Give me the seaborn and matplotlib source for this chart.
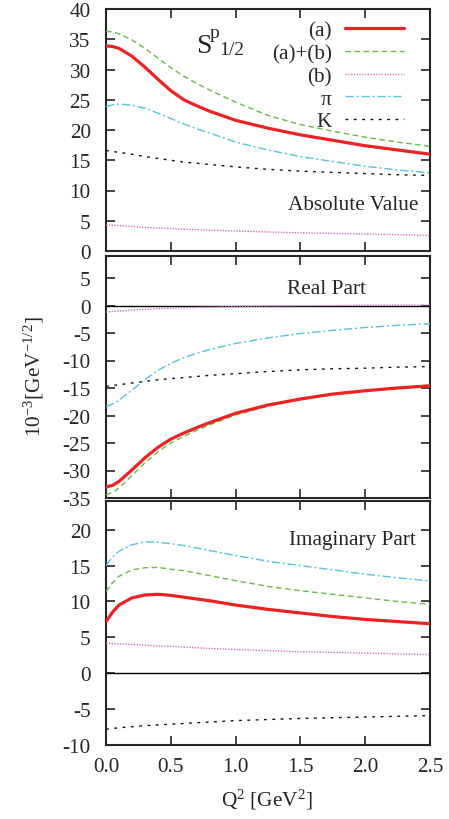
import numpy as np
import pandas as pd
import matplotlib
matplotlib.use("Agg")
import matplotlib.pyplot as plt
import seaborn as sns

# ---------------- data ----------------
q2 = [0.0, 0.05, 0.1, 0.2, 0.3, 0.4, 0.5, 0.6, 0.7, 0.8, 1.0, 1.25, 1.5, 1.75, 2.0, 2.25, 2.5]

abs_a  = [33.9, 33.8, 33.5, 32.2, 30.4, 28.4, 26.5, 25.0, 24.0, 23.1, 21.6, 20.3, 19.2, 18.3, 17.4, 16.7, 16.0]
abs_ab = [36.3, 36.2, 35.9, 34.9, 33.5, 31.9, 30.3, 28.9, 27.7, 26.6, 24.6, 22.4, 20.9, 19.8, 18.8, 18.0, 17.3]
abs_b  = [4.3, 4.25, 4.2, 4.05, 3.9, 3.8, 3.7, 3.6, 3.52, 3.45, 3.3, 3.15, 3.0, 2.9, 2.8, 2.7, 2.6]
abs_pi = [23.9, 24.15, 24.3, 24.1, 23.6, 22.8, 21.9, 21.0, 20.2, 19.5, 18.0, 16.7, 15.6, 14.8, 14.0, 13.4, 12.9]
abs_k  = [16.6, 16.45, 16.3, 16.0, 15.6, 15.3, 15.0, 14.7, 14.5, 14.3, 13.9, 13.5, 13.2, 13.0, 12.8, 12.6, 12.5]

re_a  = [-33.0, -32.7, -32.0, -29.9, -27.7, -25.8, -24.3, -23.2, -22.2, -21.3, -19.6, -18.1, -17.0, -16.1, -15.5, -15.0, -14.6]
re_ab = [-34.4, -34.0, -33.2, -30.9, -28.6, -26.6, -25.0, -23.8, -22.7, -21.7, -19.9, -18.3, -17.1, -16.2, -15.5, -14.9, -14.5]
re_b  = [-1.2, -1.1, -1.0, -0.85, -0.7, -0.6, -0.5, -0.4, -0.35, -0.3, -0.2, -0.1, -0.05, 0.0, 0.05, 0.08, 0.1]
re_pi = [-18.4, -17.9, -17.2, -15.4, -13.5, -11.8, -10.5, -9.5, -8.7, -8.0, -6.9, -5.9, -5.1, -4.5, -4.0, -3.6, -3.3]
re_k  = [-14.7, -14.55, -14.4, -14.1, -13.8, -13.5, -13.3, -13.1, -12.9, -12.7, -12.4, -12.0, -11.7, -11.5, -11.4, -11.2, -11.1]

im_a  = [7.2, 8.5, 9.5, 10.5, 10.9, 11.0, 10.85, 10.6, 10.35, 10.1, 9.5, 8.9, 8.4, 7.9, 7.5, 7.2, 6.9]
im_ab = [11.4, 12.6, 13.5, 14.4, 14.7, 14.75, 14.5, 14.3, 13.95, 13.6, 12.9, 12.1, 11.5, 11.0, 10.5, 10.0, 9.6]
im_b  = [4.2, 4.15, 4.1, 4.0, 3.9, 3.8, 3.75, 3.65, 3.55, 3.45, 3.3, 3.15, 3.0, 2.9, 2.8, 2.7, 2.6]
im_pi = [15.0, 16.2, 17.0, 17.9, 18.3, 18.25, 18.05, 17.8, 17.45, 17.1, 16.4, 15.6, 15.0, 14.4, 13.8, 13.3, 12.85]
im_k  = [-7.8, -7.7, -7.6, -7.45, -7.3, -7.2, -7.1, -7.0, -6.9, -6.8, -6.6, -6.45, -6.3, -6.2, -6.1, -6.0, -5.9]

series_labels = ["(a)", "(a)+(b)", "(b)", "π", "K"]
x_ticks = [0.0, 0.5, 1.0, 1.5, 2.0, 2.5]

# ---------------- style ----------------
sns.set_style("ticks")
plt.rcParams["font.family"] = ["Liberation Serif", "DejaVu Serif"]
plt.rcParams["mathtext.fontset"] = "custom"
plt.rcParams["mathtext.rm"] = "Liberation Serif"
plt.rcParams["mathtext.it"] = "Liberation Serif:italic"
plt.rcParams["mathtext.sf"] = "Liberation Serif"
plt.rcParams["axes.unicode_minus"] = False

styles = {
    "(a)":      dict(color="#ee2222", lw=2.3, ls="-"),
    "(a)+(b)":  dict(color="#66bb44", lw=1.0, ls=(0, (4, 2.5))),
    "(b)":      dict(color="#d070c8", lw=1.0, ls=(0, (1, 1))),
    "π":        dict(color="#55c4dc", lw=1.0, ls=(0, (6, 2, 1.5, 2))),
    "K":        dict(color="#111111", lw=1.0, ls=(0, (2, 4))),
}

FS = 15.3
fig = plt.figure(figsize=(4.49, 8.2), dpi=100)
L, W = 106 / 449, (430 - 106) / 449
def rect(top_px, bot_px):
    return [L, 1 - bot_px / 820, W, (bot_px - top_px) / 820]

ax1 = fig.add_axes(rect(10, 252))
ax2 = fig.add_axes(rect(257, 499))
ax3 = fig.add_axes(rect(502, 746))

panels = [
    (ax1, [abs_a, abs_ab, abs_b, abs_pi, abs_k], (0, 40), [0, 5, 10, 15, 20, 25, 30, 35, 40]),
    (ax2, [re_a, re_ab, re_b, re_pi, re_k], (-35, 9), [-35, -30, -25, -20, -15, -10, -5, 0, 5]),
    (ax3, [im_a, im_ab, im_b, im_pi, im_k], (-10, 24), [-10, -5, 0, 5, 10, 15, 20]),
]

order = [4, 3, 2, 1, 0]
for ax, vals, ylim, yt in panels:
    if ax is not ax1:
        ax.axhline(0, color="black", lw=1.0, zorder=1)
    for i in order:
        lab = series_labels[i]
        df = pd.DataFrame({"x": q2, "y": vals[i]})
        st = styles[lab]
        sns.lineplot(data=df, x="x", y="y", ax=ax, color=st["color"], lw=st["lw"],
                     linestyle=st["ls"], label=lab if ax is ax1 else None,
                     legend=False, zorder=3 + (4 - i))
    ax.set_xlim(0, 2.5)
    ax.set_ylim(*ylim)
    ax.set_yticks(yt)
    ax.set_xticks(x_ticks)
    ax.set_xlabel("")
    ax.set_ylabel("")
    ax.tick_params(direction="in", length=6.5, width=1.2, top=True, right=True,
                   labelsize=FS)
    ax.tick_params(axis="y", pad=11)
    ax.tick_params(axis="x", pad=9)
    for s in ax.spines.values():
        s.set_linewidth(1.5)
        s.set_visible(True)

ax1.tick_params(labelbottom=False)
ax2.tick_params(labelbottom=False)
ax3.set_xticklabels([f"{v:.1f}" for v in x_ticks])

# legend
handles, labels = ax1.get_legend_handles_labels()
hmap = dict(zip(labels, handles))
ax1.legend([hmap[l] for l in series_labels], series_labels, loc="upper right",
           frameon=False, markerfirst=False, fontsize=FS, handlelength=2.8,
           handletextpad=0.6, labelspacing=0.13, borderaxespad=0.0, borderpad=0.0,
           bbox_to_anchor=((404 - 106) / 324, 1 - 12 / 242))

# S^p_1/2 label built from pieces
def ftext(xp, yp, s, size):
    fig.text(xp / 449, 1 - yp / 820, s, fontsize=size, ha="left", va="baseline")
ftext(196, 53, "S", 20)
ftext(210, 38, "p", 14)
ftext(219, 55, "1/2", 14)

ax1.text(2.407, 7.7, "Absolute Value", fontsize=FS, ha="right", va="center")
ax2.text(1.705, 3.0, "Real Part", fontsize=FS, ha="center", va="center")
ax3.text(2.39, 18.6, "Imaginary Part", fontsize=FS, ha="right", va="center")

fig.text(267 / 449, 1 - 800 / 820, r"Q$^2$ [GeV$^2$]", fontsize=FS, ha="center", va="center")
fig.text(34 / 449, 1 - 377 / 820, r"10$^{-3}$[GeV$^{-1/2}$]", fontsize=FS,
         ha="center", va="center", rotation=90)

fig.savefig("out.png", dpi=100)
